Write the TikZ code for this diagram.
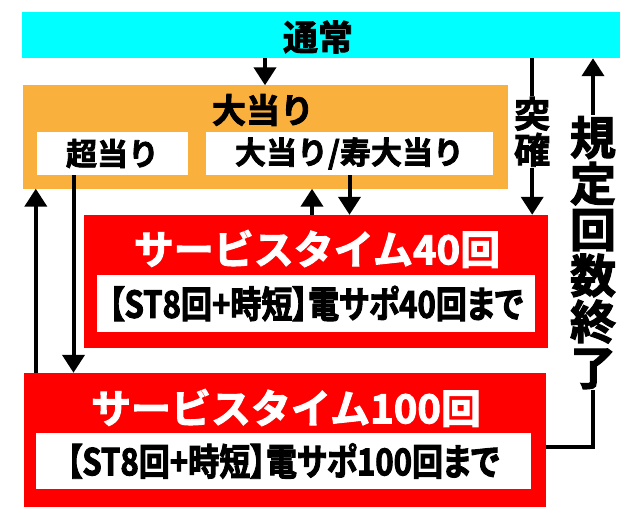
\documentclass[tikz,border=0pt]{standalone}
\usepackage{fontspec}
\setmainfont{Noto Sans CJK JP}
\newfontfamily\heavyfont{Noto Sans CJK JP Bold}[FakeBold=2.5]
\newfontfamily\condfont{Noto Sans CJK JP Bold}[FakeBold=2.5, FakeStretch=0.84, RawFeature=+palt]
\usetikzlibrary{arrows.meta, positioning, calc}
\definecolor{aqua}{RGB}{0, 255, 255}
\definecolor{ora}{RGB}{250, 176, 60}
\definecolor{rd}{RGB}{255, 0, 0}
\tikzset{
    boxnode/.style = {draw=none, rectangle, inner sep = 0em, node distance=0em},
    whitenode/.style = {boxnode, fill=white},
    textnode/.style = {draw=none, fill=none, rectangle, inner sep = 0em, node distance=0em},
    vtextnode/.style = {draw=none, fill=white, rectangle, inner sep = 0.1em, align=center},
    connect/.style = {black, line width=4pt, -{Triangle[width=22pt, length=18pt]}},
    every text node part/.style={align=center}
}
\newcommand{\fs}[1]{\fontsize{#1}{#1}\selectfont}

\begin{document}
\begin{tikzpicture}[x=1pt, y=-1pt]
    \useasboundingbox (0,0) rectangle (640,527);

    % normal state
    \node [name=normal, boxnode, fill=aqua, minimum width=598pt, minimum height=46pt] at (321,35) {};
    \node [name=normaltxt, textnode, font=\heavyfont\fs{35}] at (318,37) {通常};

    % jackpot block
    \node [name=big, boxnode, fill=ora, minimum width=485pt, minimum height=103pt] at (265,137) {};
    \node [name=bigtxt, textnode, font=\heavyfont\fs{34}] at (263,110) {大当り};
    \node [name=super, whitenode, minimum width=151pt, minimum height=43pt, font=\heavyfont\fs{31}] at (112.5,153.5) {超当り};
    \node [name=bigkoto, whitenode, minimum width=287pt, minimum height=43pt, font=\heavyfont\fs{31}] at (349.5,153.5) {大当り/寿大当り};

    % service time 40
    \node [name=st40, boxnode, fill=rd, minimum width=464pt, minimum height=133pt] at (316,281.5) {};
    \node [name=st40txt, textnode, text=white, font=\heavyfont\fs{40}] at (317,249) {サービスタイム40回};
    \node [name=st40sub, whitenode, minimum width=438pt, minimum height=57pt, font=\condfont\fs{37}] at (316,303.5) {【ST8回+時短】電サポ40回まで};

    % service time 100
    \node [name=st100, boxnode, fill=rd, minimum width=522pt, minimum height=134pt] at (285,440) {};
    \node [name=st100txt, textnode, text=white, font=\heavyfont\fs{40}] at (286,408) {サービスタイム100回};
    \node [name=st100sub, whitenode, minimum width=495pt, minimum height=56pt, font=\condfont\fs{37}] at (283,461) {【ST8回+時短】電サポ100回まで};

    % helper points
    \coordinate (s100up) at ([xshift=12pt]st100.north west);
    \coordinate (superdn) at ([xshift=-39pt]super.south);
    \coordinate (st40up) at ([xshift=-4pt]st40.north);
    \coordinate (tk) at ([xshift=-16pt]st40.north east);
    \coordinate (endpt) at ([yshift=-7pt]st100.east);
    \coordinate (turn) at (593,447);

    % connectors
    \draw [connect] (normal.south -| big.north) -- (big.north);
    \draw [connect] (superdn) -- (superdn |- st100.north);
    \draw [connect] (s100up) -- (s100up |- big.south);
    \draw [connect] (st40up) -- (st40up |- big.south);
    \draw [connect] (bigkoto.south) -- (bigkoto.south |- st40.north);
    \draw [connect] (tk |- normal.south) -- node [name=tokkaku, vtextnode, font=\heavyfont\fs{36}, pos=0.47] {突\\確} (tk);
    \draw [connect] (endpt) -- (turn) -- node [name=kitei, vtextnode, font=\heavyfont\fs{46}, pos=0.5] {規\\定\\回\\数\\終\\了} (turn |- normal.south);
\end{tikzpicture}
\end{document}
